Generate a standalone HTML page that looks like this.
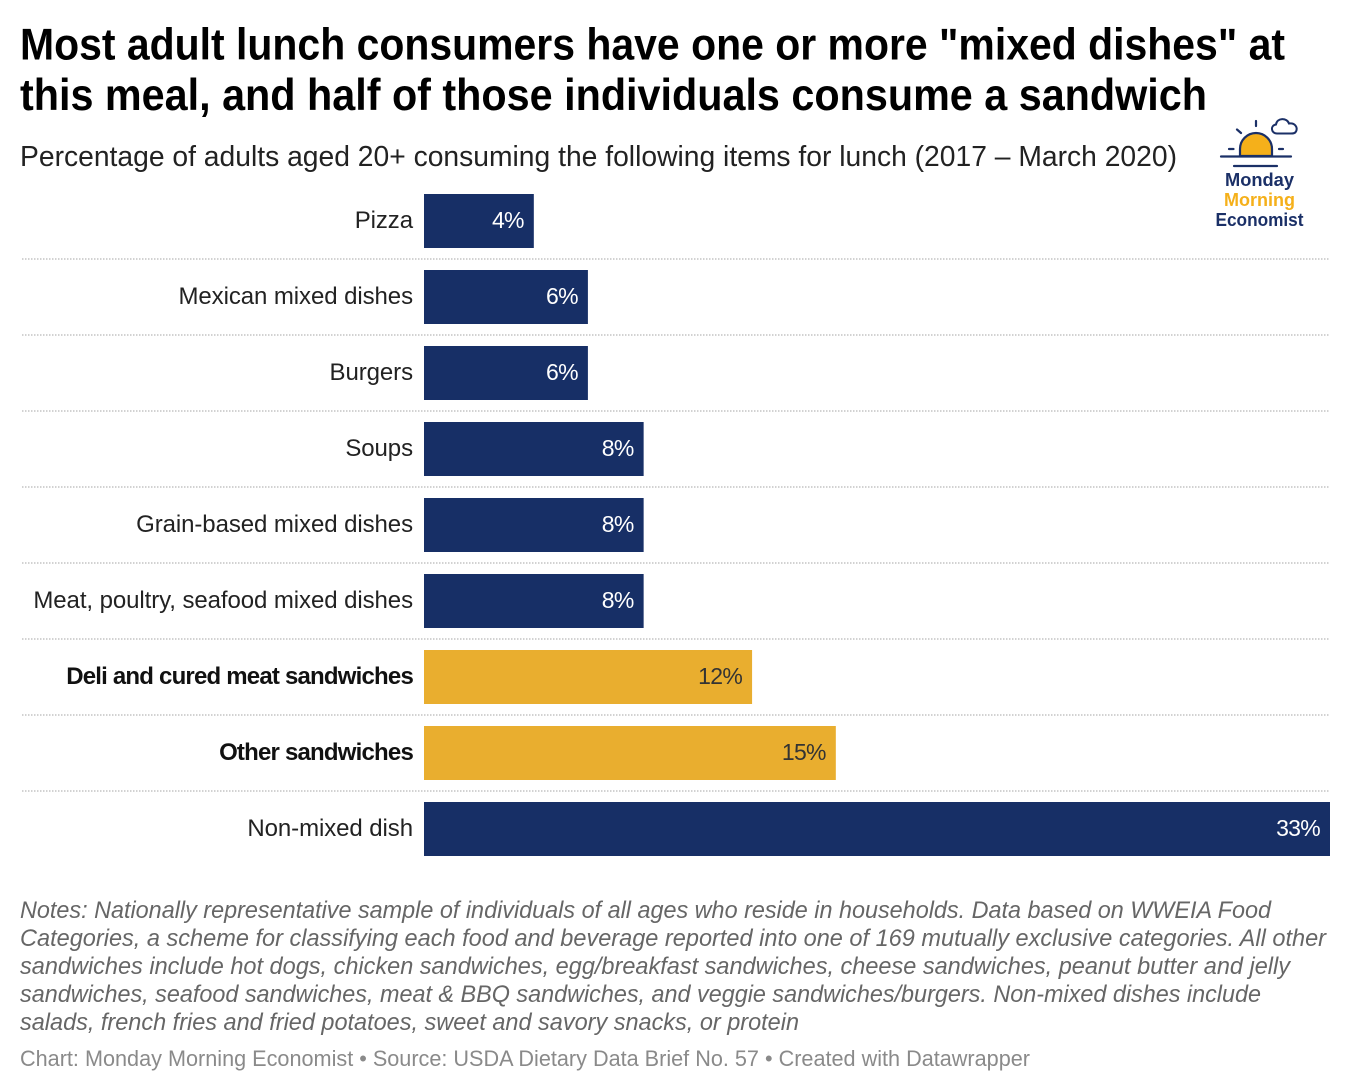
<!DOCTYPE html>
<html lang="en">
<head>
<meta charset="utf-8">
<title>Lunch consumption chart</title>
<style>
html,body{margin:0;padding:0;background:#fff;width:1352px;height:1092px;overflow:hidden}
svg{display:block;font-family:"Liberation Sans",Arial,sans-serif}
</style>
</head>
<body>
<svg id="chart" width="1352" height="1092" viewBox="0 0 1352 1092" xmlns="http://www.w3.org/2000/svg">
<g>
<text x="20" y="59.500" font-size="44.500" font-weight="700" fill="#000" textLength="1265" lengthAdjust="spacingAndGlyphs">Most adult lunch consumers have one or more "mixed dishes" at</text>
<text x="20" y="110" font-size="44.500" font-weight="700" fill="#000" textLength="1187" lengthAdjust="spacingAndGlyphs">this meal, and half of those individuals consume a sandwich</text>
<text x="20" y="166" font-size="29" fill="#222" textLength="1157" lengthAdjust="spacingAndGlyphs">Percentage of adults aged 20+ consuming the following items for lunch (2017 – March 2020)</text>
</g>
<g id="plot"></g>
<g>
<g fill="none" stroke="#1b3067" stroke-width="2.200" stroke-linecap="round">
<path d="M1240 156V149a16 16 0 0 1 32 0V156z" fill="#f5b01a"/>
<path d="M1221 156.500H1291"/>
<path d="M1234 166H1277"/>
<path d="M1256 121V126M1237 129.500L1241 133M1229 149H1233.500M1279 149H1283"/>
<path d="M1277 133.500c-6 0-7-8-1-9 1-7 11-7 13-1 6-1 9 4 7 8-1 2-3 2-5 2z" stroke-width="2"/>
</g>
<g font-size="18.500" font-weight="700" text-anchor="middle">
<text x="1259.500" y="186" fill="#1b3067" textLength="69" lengthAdjust="spacingAndGlyphs">Monday</text>
<text x="1259.500" y="206" fill="#f5b01a" textLength="71" lengthAdjust="spacingAndGlyphs">Morning</text>
<text x="1259.500" y="226" fill="#1b3067" textLength="88" lengthAdjust="spacingAndGlyphs">Economist</text>
</g>
</g>
<g font-size="24" font-style="italic" fill="#666">
<text x="20" y="918" textLength="1251" lengthAdjust="spacingAndGlyphs">Notes: Nationally representative sample of individuals of all ages who reside in households. Data based on WWEIA Food</text>
<text x="20" y="946" textLength="1306" lengthAdjust="spacingAndGlyphs">Categories, a scheme for classifying each food and beverage reported into one of 169 mutually exclusive categories. All other</text>
<text x="20" y="974" textLength="1270" lengthAdjust="spacingAndGlyphs">sandwiches include hot dogs, chicken sandwiches, egg/breakfast sandwiches, cheese sandwiches, peanut butter and jelly</text>
<text x="20" y="1002" textLength="1241" lengthAdjust="spacingAndGlyphs">sandwiches, seafood sandwiches, meat &amp; BBQ sandwiches, and veggie sandwiches/burgers. Non-mixed dishes include</text>
<text x="20" y="1030" textLength="779" lengthAdjust="spacingAndGlyphs">salads, french fries and fried potatoes, sweet and savory snacks, or protein</text>
</g>
<text x="20" y="1066" font-size="22" fill="#8a8a8a" textLength="1010" lengthAdjust="spacingAndGlyphs">Chart: Monday Morning Economist • Source: USDA Dietary Data Brief No. 57 • Created with Datawrapper</text>
</svg>
<script>
const categories = ["Pizza", "Mexican mixed dishes", "Burgers", "Soups", "Grain-based mixed dishes", "Meat, poultry, seafood mixed dishes", "Deli and cured meat sandwiches", "Other sandwiches", "Non-mixed dish"];
const shares = [4, 5.97, 5.97, 8, 8, 8, 11.95, 15, 33];
const highlighted = ["Deli and cured meat sandwiches", "Other sandwiches"];

const NS = "http://www.w3.org/2000/svg";
const plot = document.getElementById("plot");
const x0 = 424, x1 = 1330, domainMax = 33;
const firstTop = 194, step = 76, barH = 54;
const xScale = function (v) { return (v / domainMax) * (x1 - x0); };
const yScale = function (i) { return firstTop + i * step; };
const svgEl = function (tag, attrs) {
  const el = document.createElementNS(NS, tag);
  for (const k in attrs) el.setAttribute(k, attrs[k]);
  return el;
};

categories.forEach(function (name, i) {
  const isHi = highlighted.indexOf(name) >= 0;
  const top = yScale(i);
  const w = xScale(shares[i]);
  const mid = top + barH / 2;

  if (i < categories.length - 1) {
    const rule = svgEl("line", { x1: 22, x2: 1330, y1: top + 65, y2: top + 65, stroke: "#c4c4c4", "stroke-width": 1.500, "stroke-dasharray": "1.500 1.500" });
    
    
    plot.appendChild(rule);
  }

  const label = svgEl("text", { x: 413, y: mid + 7, "text-anchor": "end", "font-size": 24, "font-weight": isHi ? 700 : 400, "letter-spacing": isHi ? -0.8 : -0.08, fill: isHi ? "#111" : "#222" });
  
  
  label.textContent = name;
  plot.appendChild(label);

  const bar = svgEl("rect", { x: x0, y: top, width: w, height: barH, fill: isHi ? "#e9ae2f" : "#172f66" });
  
  
  plot.appendChild(bar);

  const value = svgEl("text", { x: x0 + w - 10, y: mid + 7, "text-anchor": "end", "font-size": 23, "letter-spacing": -0.7, fill: isHi ? "#333" : "#fff" });
  
  
  value.textContent = Math.round(shares[i]) + "%";
  plot.appendChild(value);
});
</script>
</body>
</html>
